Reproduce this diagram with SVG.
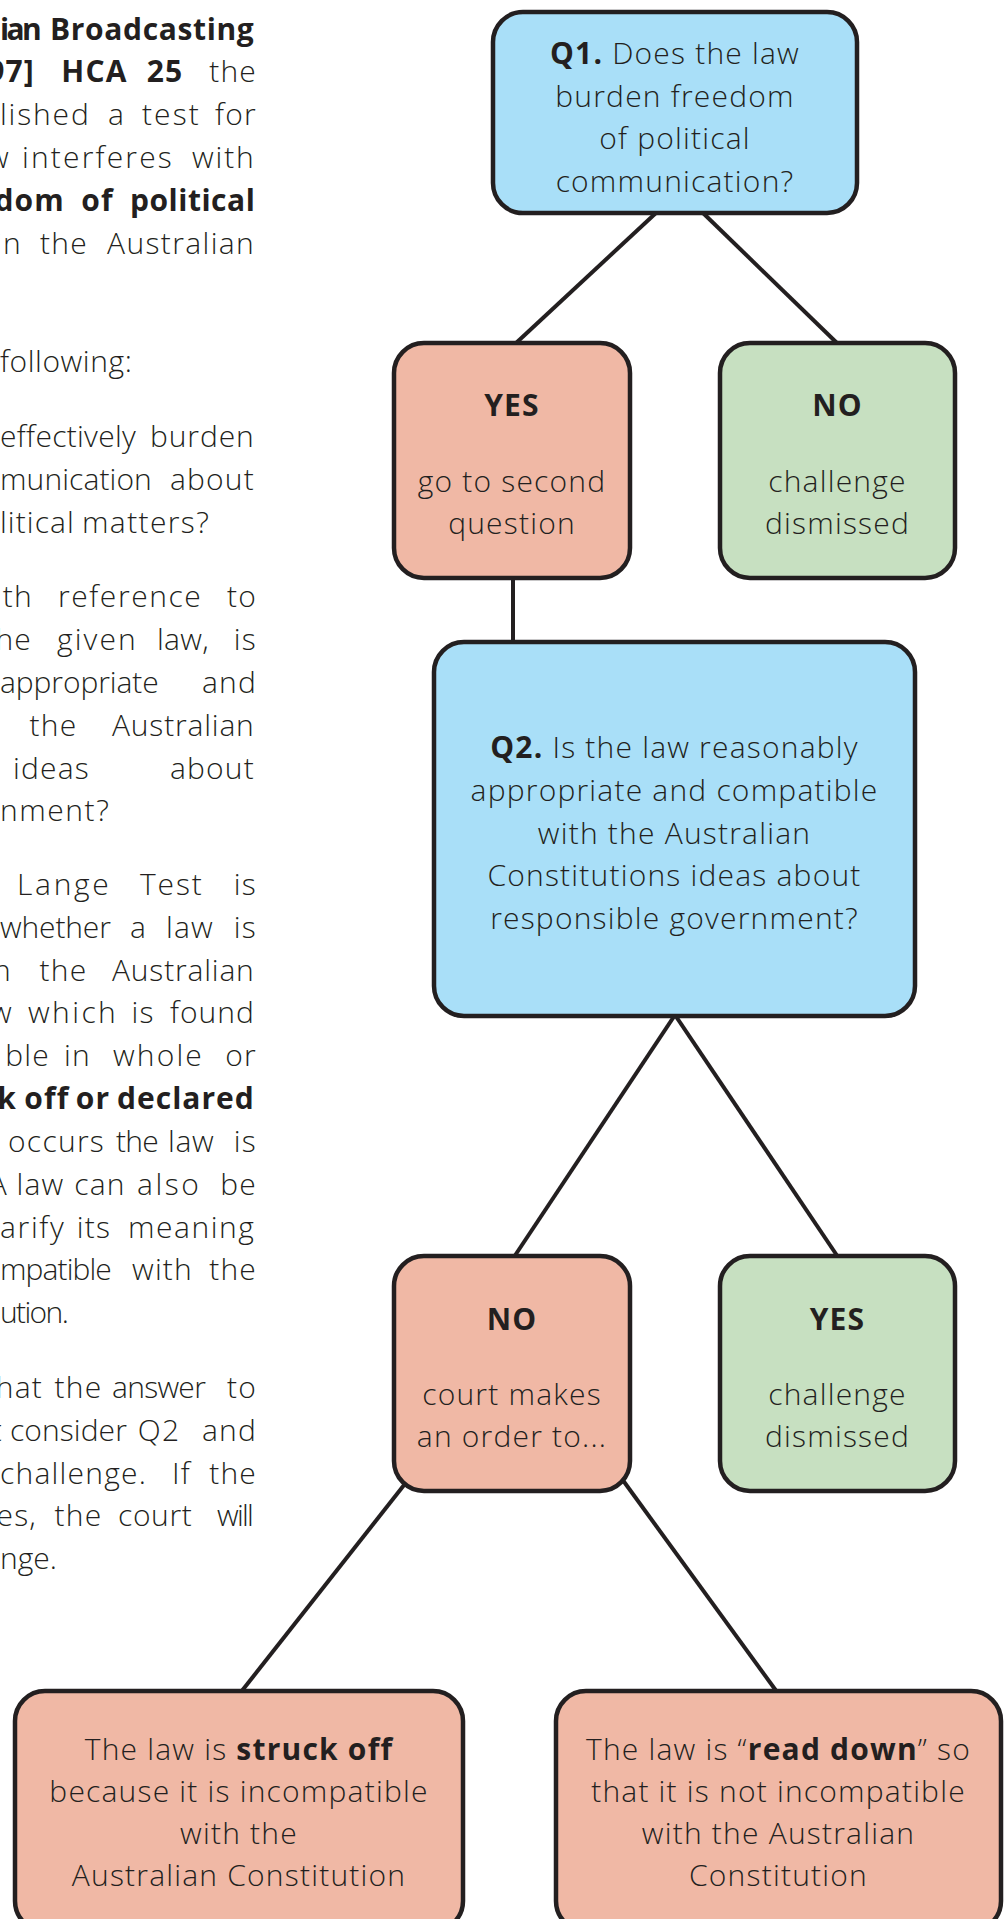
<svg xmlns="http://www.w3.org/2000/svg" width="1006" height="1919" viewBox="0 0 1006 1919">
<style>
.t{font-family:"Open Sans","Noto Sans","Liberation Sans",sans-serif;font-size:30px;fill:#231F20;letter-spacing:1.2px;font-weight:300}
.b{font-weight:700}
.c{text-anchor:middle}
.e{text-anchor:end}
.box{stroke:#231F20;stroke-width:4.5}
.blue{fill:#A9DFF8}
.red{fill:#F0B8A5}
.green{fill:#C7E0C1}
.ln{stroke:#231F20;stroke-width:4;fill:none}
</style>
<rect width="1006" height="1919" fill="#ffffff"/>
<g id="intro-text">
<text class="t b" x="0" y="39.5" textLength="43">ian</text><text class="t b" x="50" y="39.5" textLength="205">Broadcasting</text>
<text class="t b e" x="35" y="82.3">97]</text><text class="t b c" x="94.5" y="82.3">HCA</text><text class="t b c" x="165" y="82.3">25</text><text class="t e" x="257" y="82.3">the</text>
<text class="t" x="0" y="125.1" textLength="90">lished</text><text class="t c" x="116.5" y="125.1">a</text><text class="t" x="142" y="125.1" textLength="58">test</text><text class="t e" x="257" y="125.1">for</text>
<text class="t e" x="10" y="167.9">w</text><text class="t" x="22" y="167.9" textLength="151">interferes</text><text class="t" x="192" y="167.9" textLength="63">with</text>
<text class="t b e" x="65" y="210.7">dom</text><text class="t b c" x="97.5" y="210.7">of</text><text class="t b" x="130" y="210.7" textLength="126">political</text>
<text class="t e" x="22" y="253.5">in</text><text class="t c" x="64" y="253.5">the</text><text class="t" x="107" y="253.5" textLength="148">Australian</text>
<text class="t" x="0" y="372" textLength="133">following:</text>
<text class="t" x="0" y="447" textLength="137">effectively</text><text class="t" x="150" y="447" textLength="105">burden</text>
<text class="t" x="0" y="489.7" textLength="153">munication</text><text class="t" x="170" y="489.7" textLength="85">about</text>
<text class="t" x="0" y="532.6" textLength="75">litical</text><text class="t" x="82" y="532.6" textLength="128">matters?</text>
<text class="t e" x="33" y="607.2">ith</text><text class="t" x="58" y="607.2" textLength="144">reference</text><text class="t e" x="257" y="607.2">to</text>
<text class="t e" x="32" y="650">he</text><text class="t" x="57" y="650" textLength="80">given</text><text class="t" x="157" y="650" textLength="53">law,</text><text class="t e" x="257" y="650">is</text>
<text class="t" x="0" y="692.9" textLength="160">appropriate</text><text class="t e" x="257" y="692.9">and</text>
<text class="t c" x="53.5" y="735.7">the</text><text class="t" x="112" y="735.7" textLength="143">Australian</text>
<text class="t" x="13" y="778.5" textLength="77">ideas</text><text class="t" x="170" y="778.5" textLength="85">about</text>
<text class="t" x="0" y="821.4" textLength="110">nment?</text>
<text class="t" x="17" y="894.8" textLength="93">Lange</text><text class="t" x="140" y="894.8" textLength="63">Test</text><text class="t e" x="257" y="894.8">is</text>
<text class="t" x="0" y="937.6" textLength="112">whether</text><text class="t c" x="138.5" y="937.6">a</text><text class="t c" x="190" y="937.6">law</text><text class="t e" x="257" y="937.6">is</text>
<text class="t e" x="12" y="980.5">n</text><text class="t c" x="63.5" y="980.5">the</text><text class="t" x="112" y="980.5" textLength="143">Australian</text>
<text class="t e" x="13" y="1023.3">w</text><text class="t" x="28" y="1023.3" textLength="89">which</text><text class="t c" x="143" y="1023.3">is</text><text class="t" x="170" y="1023.3" textLength="85">found</text>
<text class="t e" x="50" y="1066.1">ble</text><text class="t c" x="77.5" y="1066.1">in</text><text class="t" x="113" y="1066.1" textLength="90">whole</text><text class="t e" x="257" y="1066.1">or</text>
<text class="t b e" x="17" y="1109">k</text><text class="t b c" x="47" y="1109">off</text><text class="t b c" x="93" y="1109">or</text><text class="t b" x="117" y="1109" textLength="138">declared</text>
<text class="t" x="8" y="1151.8" textLength="97">occurs</text><text class="t" x="116" y="1151.8" textLength="44">the</text><text class="t" x="168" y="1151.8" textLength="47">law</text><text class="t e" x="257" y="1151.8">is</text>
<text class="t e" x="8" y="1194.6">A</text><text class="t c" x="40.5" y="1194.6">law</text><text class="t c" x="100" y="1194.6">can</text><text class="t" x="137" y="1194.6" textLength="63">also</text><text class="t e" x="257" y="1194.6">be</text>
<text class="t" x="0" y="1237.5" textLength="65">arify</text><text class="t c" x="94" y="1237.5">its</text><text class="t" x="128" y="1237.5" textLength="127">meaning</text>
<text class="t" x="0" y="1280.3" textLength="113">mpatible</text><text class="t" x="132" y="1280.3" textLength="61">with</text><text class="t e" x="257" y="1280.3">the</text>
<text class="t" x="0" y="1323.1" textLength="70">ution.</text>
<text class="t e" x="43" y="1397.8">hat</text><text class="t c" x="78.5" y="1397.8">the</text><text class="t" x="112" y="1397.8" textLength="95">answer</text><text class="t e" x="257" y="1397.8">to</text>
<text class="t e" x="3" y="1440.6">t</text><text class="t" x="10" y="1440.6" textLength="118">consider</text><text class="t c" x="159" y="1440.6">Q2</text><text class="t e" x="257" y="1440.6">and</text>
<text class="t" x="0" y="1483.5" textLength="147">challenge.</text><text class="t c" x="181.5" y="1483.5">If</text><text class="t e" x="257" y="1483.5">the</text>
<text class="t e" x="37" y="1526.3">yes,</text><text class="t c" x="78.5" y="1526.3">the</text><text class="t" x="118" y="1526.3" textLength="75">court</text><text class="t" x="217" y="1526.3" textLength="38">will</text>
<text class="t" x="0" y="1569.1" textLength="58">nge.</text>
</g>
<g id="connectors">
<line class="ln" x1="657" y1="212" x2="515" y2="344"/>
<line class="ln" x1="702" y1="212" x2="838" y2="344"/>
<line class="ln" x1="513" y1="577" x2="513" y2="643"/>
<line class="ln" x1="675" y1="1015" x2="514" y2="1257"/>
<line class="ln" x1="675" y1="1015" x2="838" y2="1257"/>
<line class="ln" x1="408" y1="1480" x2="241" y2="1692"/>
<line class="ln" x1="622" y1="1479" x2="777" y2="1692"/>
</g>
<g id="q1">
<rect class="box blue" x="493" y="12" width="364" height="201" rx="30"/>
<text class="t c" x="675" y="64"><tspan class="b">Q1.</tspan> Does the law</text>
<text class="t c" x="675" y="107">burden freedom</text>
<text class="t c" x="675" y="149">of political</text>
<text class="t c" x="675" y="192">communication?</text>
</g>
<g id="yes1">
<rect class="box red" x="394" y="343" width="236" height="235" rx="30"/>
<text class="t b c" x="512" y="416">YES</text>
<text class="t c" x="512" y="492">go to second</text>
<text class="t c" x="512" y="534">question</text>
</g>
<g id="no1">
<rect class="box green" x="720" y="343" width="235" height="235" rx="30"/>
<text class="t b c" x="837.5" y="416">NO</text>
<text class="t c" x="837.5" y="492">challenge</text>
<text class="t c" x="837.5" y="534">dismissed</text>
</g>
<g id="q2">
<rect class="box blue" x="434" y="642" width="481" height="374" rx="30"/>
<text class="t c" x="674.5" y="758"><tspan class="b">Q2.</tspan> Is the law reasonably</text>
<text class="t c" x="674.5" y="801">appropriate and compatible</text>
<text class="t c" x="674.5" y="844">with the Australian</text>
<text class="t c" x="674.5" y="886">Constitutions ideas about</text>
<text class="t c" x="674.5" y="929">responsible government?</text>
</g>
<g id="no2">
<rect class="box red" x="394" y="1256" width="236" height="235" rx="30"/>
<text class="t b c" x="512" y="1330">NO</text>
<text class="t c" x="512" y="1405">court makes</text>
<text class="t c" x="512" y="1447">an order to...</text>
</g>
<g id="yes2">
<rect class="box green" x="720" y="1256" width="235" height="235" rx="30"/>
<text class="t b c" x="837.5" y="1330">YES</text>
<text class="t c" x="837.5" y="1405">challenge</text>
<text class="t c" x="837.5" y="1447">dismissed</text>
</g>
<g id="struck-off">
<rect class="box red" x="15" y="1691" width="448" height="240" rx="30"/>
<text class="t c" x="239" y="1760">The law is <tspan class="b">struck off</tspan></text>
<text class="t c" x="239" y="1802">because it is incompatible</text>
<text class="t c" x="239" y="1844">with the</text>
<text class="t c" x="239" y="1886">Australian Constitution</text>
</g>
<g id="read-down">
<rect class="box red" x="556" y="1691" width="445" height="240" rx="30"/>
<text class="t c" x="778.5" y="1760">The law is “<tspan class="b">read down</tspan>” so</text>
<text class="t c" x="778.5" y="1802">that it is not incompatible</text>
<text class="t c" x="778.5" y="1844">with the Australian</text>
<text class="t c" x="778.5" y="1886">Constitution</text>
</g>
</svg>
